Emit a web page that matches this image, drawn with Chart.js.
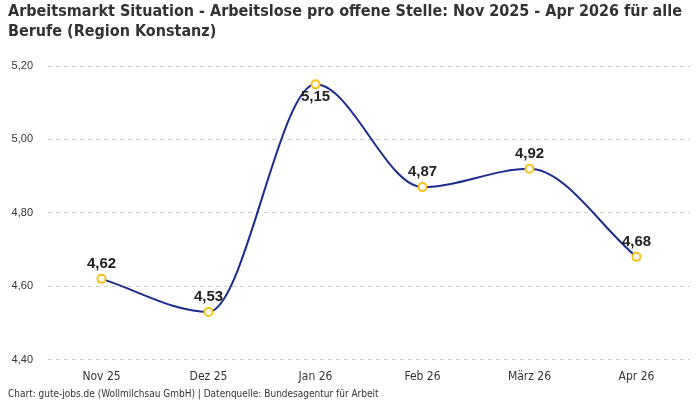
<!DOCTYPE html>
<html>
<head>
<meta charset="utf-8">
<script src="https://cdn.jsdelivr.net/npm/chart.js@4"></script>
<style>
  body { margin: 0; background: #fff; }
  #wrap { width: 700px; height: 400px; }
</style>
</head>
<body>
<div id="wrap"><canvas id="chart"></canvas></div>
<script>
const months = ["Nov 25", "Dez 25", "Jan 26", "Feb 26", "März 26", "Apr 26"];
const ratio = [4.62, 4.53, 5.15, 4.87, 4.92, 4.68];
const yTicks = [4.4, 4.6, 4.8, 5.0, 5.2];

const narrow = "'Liberation Sans Narrow', 'DejaVu Sans Condensed', sans-serif";
const fmt = (v) => v.toFixed(2).replace(".", ",");

// draws the value above each point (below when it would hit the top)
const valueLabels = {
  id: "valueLabels",
  afterDatasetsDraw(chart) {
    const c = chart.ctx;
    const meta = chart.getDatasetMeta(0);
    c.save();
    c.font = "bold 15px 'Liberation Sans', sans-serif";
    c.fillStyle = "#222";
    c.textAlign = "center";
    c.textBaseline = "middle";
    meta.data.forEach((pt, i) => {
      let y = pt.y - 15;
      if (y < chart.chartArea.top + 4) y = pt.y + 13;
      c.fillText(fmt(ratio[i]), pt.x, y);
    });
    c.restore();
  }
};

new Chart(document.getElementById("chart"), {
  type: "line",
  data: {
    labels: months,
    datasets: [{
      data: ratio,
      borderColor: "#1c2b8c",
      borderWidth: 2,
      cubicInterpolationMode: "monotone",
      pointRadius: 4,
      pointBorderWidth: 2,
      pointBackgroundColor: "#fff",
      pointBorderColor: "#f7c21b",
      clip: false,
    }],
  },
  options: {
    responsive: true,
    maintainAspectRatio: false,
    animation: false,
    layout: { padding: { left: 8, right: 10, top: 0, bottom: 0 } },
    plugins: {
      legend: { display: false },
      tooltip: { enabled: false },
      title: {
        display: true,
        align: "start",
        text: ["Arbeitsmarkt Situation - Arbeitslose pro offene Stelle: Nov 2025 - Apr 2026 für alle",
               "Berufe (Region Konstanz)"],
        color: "#333",
        font: { family: narrow, size: 16, weight: "bold", lineHeight: 1.25 },
        padding: { top: 2, bottom: 24 },
      },
      subtitle: {
        display: true,
        position: "bottom",
        align: "start",
        text: "Chart: gute-jobs.de (Wollmilchsau GmbH) | Datenquelle: Bundesagentur für Arbeit",
        color: "#333",
        font: { family: narrow, size: 10 },
        padding: { top: 2, bottom: 0 },
      },
    },
    scales: {
      x: {
        offset: true,
        grid: { display: false },
        border: { display: false },
        ticks: { color: "#333", font: { family: narrow, size: 12 }, padding: 2 },
      },
      y: {
        min: 4.4,
        max: 5.2,
        afterBuildTicks(axis) { axis.ticks = yTicks.map(v => ({ value: v })); },
        afterFit(axis) { axis.width = 40; },
        grid: { color: "#cccccc", drawTicks: false },
        border: { display: false, dash: [4, 4] },
        ticks: {
          color: "#333",
          font: { family: "'Liberation Sans', sans-serif", size: 11 },
          padding: 15,
          callback: (v) => fmt(v),
        },
      },
    },
  },
  plugins: [valueLabels],
});
</script>
</body>
</html>
